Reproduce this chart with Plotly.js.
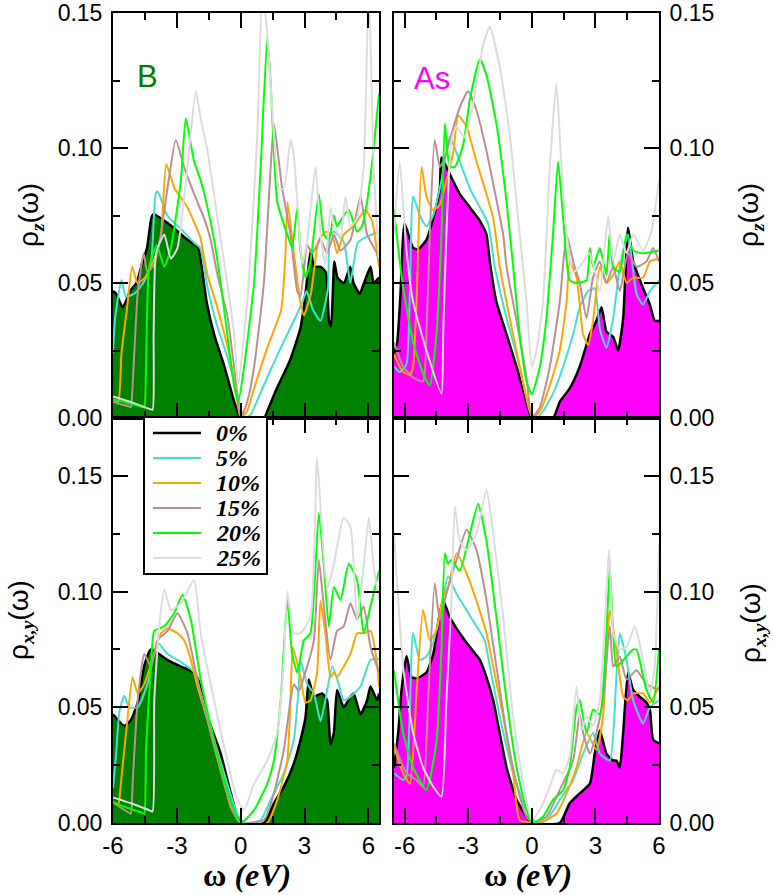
<!DOCTYPE html>
<html><head><meta charset="utf-8">
<script src="https://cdn.plot.ly/plotly-3.0.1.min.js"></script>
<style>html,body{margin:0;padding:0;background:#fff}#plot{width:774px;height:895px}</style>
</head><body><div id="plot"></div><script>
// ---- labels ----
const seriesNames = ['0%','5%','10%','15%','20%','25%'];
const seriesColors = ['#000000','#40E0D0','#FFA500','#BC8F8F','#00FF00','#DCDCDC'];
const xTickVals = [-6,-3,0,3,6];
const xTickText = ['-6','-3','0','3','6'];
const xMinorVals = [-4.5,-1.5,1.5,4.5];
const yTickVals = [0,0.05,0.1,0.15];
const yTickText = ['0.00','0.05','0.10','0.15'];
const yMinorVals = [0.025,0.075,0.125];

// ---- B, rho_z ----
const w_Bz_0 = [-6.0,-5.85,-5.55,-5.4,-5.2,-4.9,-4.6,-4.4,-4.2,-4.1,-3.4,-2.5,-2.0,-1.85,-1.6,-1.25,-0.8,-0.3,0,1.1,1.25,1.7,2.3,2.8,3.0,3.2,3.3,3.45,3.75,4.0,4.15,4.25,4.4,4.55,4.85,5.15,5.3,5.6,5.75,6.1,6.25,6.5];
const r_Bz_0 = [0.047,0.046,0.041,0.043,0.047,0.050,0.058,0.063,0.074,0.0755,0.072,0.066,0.063,0.057,0.043,0.031,0.020,0.006,0,0,0.0025,0.011,0.021,0.033,0.043,0.057,0.062,0.056,0.056,0.054,0.036,0.034,0.058,0.052,0.050,0.056,0.050,0.046,0.049,0.056,0.050,0.052];
const w_Bz_5 = [-6.0,-5.9,-5.6,-5.4,-5.0,-4.5,-4.2,-4.0,-3.9,-3.45,-2.8,-2.2,-1.9,-1.55,-1.1,-0.6,-0.15,0.15,0.45,0.75,1.25,2.0,2.5,2.9,3.1,3.4,3.75,4.1,4.2,4.4,4.85,5.15,5.5,5.9,6.5];
const r_Bz_5 = [0.024,0.037,0.051,0.045,0.046,0.051,0.058,0.083,0.084,0.075,0.070,0.065,0.063,0.048,0.034,0.022,0.009,0.0,0.001,0.006,0.015,0.028,0.036,0.043,0.047,0.040,0.036,0.048,0.068,0.069,0.065,0.050,0.065,0.067,0.069];
const w_Bz_10 = [-6.0,-5.75,-5.6,-5.35,-5.1,-4.85,-4.5,-4.05,-3.75,-3.5,-3.1,-2.5,-2.05,-1.9,-1.56,-1.1,-0.47,-0.16,0,0.3,0.63,1.25,1.9,2.1,2.2,2.5,2.8,2.97,3.3,3.67,4.0,4.3,4.53,4.84,5.3,5.86,6.17,6.5];
const r_Bz_10 = [0.007,0.006,0.024,0.040,0.056,0.050,0.052,0.059,0.067,0.094,0.085,0.078,0.070,0.067,0.053,0.041,0.021,0.006,0,0.0025,0.011,0.026,0.040,0.060,0.080,0.061,0.043,0.038,0.046,0.066,0.069,0.068,0.061,0.068,0.071,0.077,0.073,0.056];
const w_Bz_15 = [-6.0,-5.6,-5.25,-5.16,-5.08,-4.84,-4.56,-4.38,-4.06,-3.75,-3.44,-3.05,-2.66,-2.19,-1.72,-1.41,-1.09,-0.63,-0.31,0,0.31,0.63,1.09,1.41,1.56,1.72,1.95,2.34,2.66,2.81,3.13,3.36,3.75,4.06,4.38,4.69,5.16,5.63,5.94,6.4,6.5];
const r_Bz_15 = [0.006,0.005,0.0043,0.004,0.012,0.046,0.061,0.054,0.057,0.068,0.085,0.103,0.093,0.083,0.074,0.066,0.053,0.038,0.019,0,0.006,0.019,0.050,0.093,0.109,0.100,0.085,0.068,0.047,0.045,0.064,0.061,0.066,0.061,0.068,0.062,0.066,0.082,0.068,0.061,0.058];
const w_Bz_20 = [-6.0,-5.3,-4.65,-4.53,-4.45,-4.3,-3.94,-3.59,-3.28,-2.81,-2.58,-2.19,-1.88,-1.56,-1.25,-0.94,-0.63,-0.31,-0.11,0.16,0.63,0.94,1.25,1.41,1.72,2.19,2.42,2.66,2.81,3.05,3.28,3.67,3.91,4.14,4.38,4.53,4.84,5.08,5.47,5.7,5.94,6.25,6.5];
const r_Bz_20 = [0.007,0.0055,0.0042,0.004,0.019,0.056,0.064,0.056,0.063,0.088,0.111,0.095,0.088,0.078,0.066,0.050,0.031,0.012,0.006,0.019,0.050,0.093,0.141,0.124,0.080,0.068,0.063,0.078,0.062,0.052,0.058,0.083,0.068,0.066,0.075,0.071,0.075,0.077,0.069,0.071,0.080,0.100,0.120];
const w_Bz_25 = [-6.0,-5.0,-4.3,-4.14,-4.09,-3.98,-3.59,-3.28,-2.97,-2.5,-2.11,-1.88,-1.56,-1.09,-0.63,-0.31,-0.12,0.31,0.78,1.02,1.25,1.56,1.8,2.03,2.34,2.5,2.66,2.89,3.13,3.52,3.75,3.98,4.22,4.38,4.69,4.92,5.16,5.47,5.78,6.02,6.25,6.5];
const r_Bz_25 = [0.008,0.0055,0.0034,0.003,0.031,0.061,0.068,0.059,0.063,0.093,0.121,0.111,0.099,0.074,0.050,0.031,0.012,0.043,0.105,0.160,0.142,0.105,0.085,0.085,0.103,0.097,0.080,0.057,0.066,0.093,0.068,0.057,0.078,0.071,0.067,0.082,0.071,0.074,0.093,0.160,0.093,0.059];

// ---- As, rho_z ----
const w_Asz_0 = [-6.5,-6.35,-6.2,-6.0,-5.6,-5.36,-4.97,-4.65,-4.34,-4.26,-3.79,-3.4,-2.92,-2.45,-2.14,-1.98,-1.67,-1.19,-0.72,-0.25,0,1.0,1.32,1.79,2.26,2.74,3.05,3.29,3.52,3.84,4.07,4.31,4.54,4.78,5.25,5.57,5.8,6.0];
const r_Asz_0 = [0.024,0.028,0.045,0.072,0.063,0.0625,0.066,0.074,0.085,0.0965,0.089,0.083,0.078,0.073,0.068,0.058,0.043,0.031,0.019,0.006,0,0,0.006,0.011,0.019,0.031,0.036,0.041,0.032,0.030,0.025,0.037,0.0705,0.058,0.048,0.042,0.036,0.036];
const w_Asz_5 = [-6.5,-6.23,-5.91,-5.6,-5.28,-4.97,-4.65,-4.26,-3.87,-3.4,-2.92,-2.45,-2.06,-1.75,-1.19,-0.57,-0.09,0.22,0.53,1.0,1.48,1.95,2.26,2.66,2.97,3.21,3.52,3.84,4.15,4.54,4.94,5.25,5.57,6.0];
const r_Asz_5 = [0.019,0.017,0.020,0.082,0.075,0.071,0.075,0.088,0.104,0.095,0.085,0.078,0.072,0.056,0.037,0.019,0.0025,0,0.0025,0.009,0.019,0.031,0.041,0.047,0.048,0.033,0.026,0.037,0.056,0.068,0.046,0.042,0.047,0.051];
const w_Asz_10 = [-6.5,-6.07,-5.75,-5.6,-5.44,-5.2,-4.97,-4.65,-4.34,-4.03,-3.71,-3.47,-3.08,-2.61,-2.14,-1.82,-1.51,-1.04,-0.57,-0.09,0.06,0.38,0.85,1.32,1.64,1.79,2.11,2.42,2.66,2.89,3.21,3.52,3.84,4.15,4.47,4.78,5.25,5.57,6.0];
const r_Asz_10 = [0.0235,0.017,0.016,0.019,0.043,0.093,0.082,0.077,0.079,0.088,0.098,0.112,0.108,0.095,0.083,0.074,0.056,0.037,0.019,0.0025,0,0.0025,0.012,0.025,0.043,0.058,0.052,0.031,0.027,0.036,0.056,0.050,0.053,0.058,0.050,0.052,0.052,0.058,0.059];
const w_Asz_15 = [-6.5,-6.07,-5.6,-5.13,-4.97,-4.81,-4.58,-4.34,-4.1,-3.87,-3.4,-3.0,-2.61,-2.14,-1.75,-1.35,-1.19,-0.72,-0.25,0,0.38,0.85,1.32,1.64,1.95,2.26,2.58,2.89,3.21,3.52,3.84,4.15,4.54,4.94,5.41,5.72,6.0];
const r_Asz_15 = [0.028,0.019,0.015,0.0135,0.031,0.068,0.103,0.093,0.0965,0.103,0.115,0.121,0.114,0.099,0.084,0.068,0.056,0.036,0.015,0,0.004,0.019,0.043,0.068,0.058,0.050,0.037,0.052,0.058,0.050,0.056,0.047,0.061,0.056,0.058,0.063,0.058];
const w_Asz_20 = [-6.5,-6.1,-5.6,-5.1,-4.81,-4.5,-4.26,-4.1,-3.87,-3.63,-3.24,-2.92,-2.45,-2.14,-1.67,-1.19,-0.88,-0.57,-0.25,0,0.38,0.69,1.0,1.24,1.48,1.79,2.11,2.58,2.74,2.89,3.21,3.52,3.68,3.84,4.15,4.47,4.78,5.25,6.0];
const r_Asz_20 = [0.077,0.050,0.028,0.016,0.012,0.031,0.068,0.109,0.093,0.093,0.101,0.118,0.133,0.127,0.109,0.080,0.056,0.031,0.0135,0.0087,0.019,0.037,0.068,0.095,0.074,0.051,0.050,0.051,0.063,0.056,0.063,0.053,0.069,0.056,0.054,0.068,0.062,0.061,0.062];
const w_Asz_25 = [-6.5,-6.23,-5.91,-5.6,-4.97,-4.26,-4.18,-4.03,-3.79,-3.55,-3.2,-2.8,-2.3,-1.98,-1.51,-1.04,-0.57,-0.25,0,0.22,0.53,0.85,1.16,1.4,1.64,1.95,2.26,2.74,3.21,3.6,3.84,4.15,4.47,4.78,5.25,5.64,6.0];
const r_Asz_25 = [0.068,0.095,0.062,0.043,0.025,0.009,0.031,0.068,0.103,0.108,0.104,0.115,0.138,0.145,0.130,0.105,0.068,0.043,0.019,0.025,0.043,0.093,0.124,0.093,0.068,0.054,0.056,0.061,0.047,0.075,0.058,0.068,0.061,0.068,0.062,0.069,0.088];

// ---- B, rho_xy ----
const w_Bxy_0 = [-6.0,-5.47,-5.16,-4.84,-4.53,-4.22,-3.44,-2.81,-2.19,-1.88,-1.56,-0.94,-0.47,0,1.1,1.56,2.03,2.5,2.89,3.05,3.2,3.44,3.83,4.06,4.22,4.38,4.53,4.84,5.16,5.31,5.63,5.94,6.1,6.41,6.5];
const r_Bxy_0 = [0.047,0.042,0.0445,0.052,0.068,0.075,0.0705,0.0676,0.065,0.059,0.046,0.030,0.013,0,0,0.0085,0.0157,0.0258,0.0388,0.046,0.062,0.0546,0.056,0.053,0.034,0.039,0.0575,0.050,0.0546,0.056,0.047,0.053,0.059,0.053,0.056];
const w_Bxy_5 = [-6.0,-5.85,-5.7,-5.47,-5.23,-4.84,-4.38,-3.91,-3.44,-2.97,-2.5,-2.19,-1.88,-1.25,-0.63,-0.16,0.16,0.94,1.41,2.03,2.5,2.73,2.81,3.13,3.44,3.75,3.98,4.3,4.61,4.84,5.16,5.63,6.1,6.5];
const r_Bxy_5 = [0.015,0.030,0.048,0.055,0.050,0.050,0.060,0.078,0.073,0.0705,0.0676,0.065,0.056,0.036,0.017,0.004,0,0.0013,0.010,0.0215,0.036,0.059,0.070,0.060,0.056,0.044,0.053,0.0676,0.060,0.053,0.0546,0.059,0.0705,0.071];
const w_Bxy_10 = [-6.0,-5.75,-5.63,-5.31,-5.08,-4.84,-4.53,-4.06,-3.75,-3.44,-2.97,-2.66,-2.34,-2.03,-1.56,-0.94,-0.47,0,1.25,1.72,2.19,2.34,2.45,2.81,3.05,3.28,3.59,3.75,3.98,4.22,4.38,4.53,4.84,5.16,5.47,5.78,6.1,6.41,6.5];
const r_Bxy_10 = [0.009,0.008,0.017,0.046,0.063,0.056,0.060,0.073,0.082,0.084,0.082,0.079,0.0705,0.059,0.0445,0.024,0.007,0,0,0.010,0.027,0.053,0.076,0.063,0.052,0.053,0.065,0.096,0.082,0.063,0.065,0.063,0.0676,0.073,0.082,0.082,0.083,0.069,0.059];
const w_Bxy_15 = [-6.0,-5.6,-5.3,-5.16,-5.08,-4.84,-4.53,-4.22,-3.91,-3.44,-2.97,-2.5,-2.19,-1.88,-1.41,-0.78,-0.31,0,1.1,1.56,2.03,2.34,2.5,2.73,2.97,3.44,3.67,3.91,4.22,4.53,4.84,5.16,5.47,5.78,6.1,6.5];
const r_Bxy_15 = [0.009,0.0065,0.0047,0.004,0.017,0.053,0.073,0.0676,0.079,0.083,0.0906,0.082,0.069,0.056,0.0388,0.017,0.004,0,0.0013,0.0128,0.0316,0.053,0.060,0.057,0.063,0.079,0.1137,0.0935,0.0705,0.083,0.085,0.095,0.088,0.0935,0.076,0.065];
const w_Bxy_20 = [-6.0,-5.3,-4.65,-4.53,-4.45,-4.22,-4.06,-3.59,-3.13,-2.73,-2.34,-1.88,-1.25,-0.63,0,0.63,1.25,1.56,1.88,2.19,2.42,2.66,2.97,3.28,3.67,3.91,4.14,4.38,4.69,5.08,5.47,5.78,6.1,6.5];
const r_Bxy_20 = [0.009,0.0065,0.0045,0.004,0.0316,0.0676,0.083,0.085,0.0906,0.0986,0.0878,0.062,0.036,0.0143,0,0.0056,0.017,0.027,0.053,0.0964,0.073,0.065,0.079,0.082,0.134,0.111,0.085,0.102,0.0964,0.112,0.105,0.082,0.0935,0.109];
const w_Bxy_25 = [-6.0,-5.0,-4.3,-4.14,-4.06,-3.83,-3.59,-3.28,-2.81,-2.19,-1.88,-1.25,-0.63,-0.16,0.16,0.63,1.25,1.72,2.03,2.19,2.5,2.81,3.28,3.59,3.83,4.06,4.38,4.84,5.16,5.47,5.78,6.02,6.25,6.5];
const r_Bxy_25 = [0.011,0.008,0.0055,0.005,0.053,0.085,0.101,0.092,0.095,0.105,0.082,0.053,0.027,0.010,0.0056,0.017,0.027,0.039,0.0705,0.100,0.082,0.082,0.089,0.158,0.125,0.101,0.112,0.132,0.128,0.088,0.111,0.132,0.111,0.096];

// ---- As, rho_xy ----
const w_Asxy_0 = [-6.5,-6.3,-6.15,-5.91,-5.68,-5.44,-4.97,-4.65,-4.34,-4.18,-3.87,-3.4,-2.92,-2.45,-2.14,-1.82,-1.19,-0.72,-0.25,0,1.32,1.79,2.26,2.74,2.97,3.21,3.52,3.84,3.99,4.15,4.31,4.54,4.78,5.09,5.41,5.57,5.72,6.0];
const r_Asxy_0 = [0.024,0.039,0.057,0.072,0.063,0.0625,0.065,0.073,0.0906,0.096,0.089,0.082,0.076,0.0705,0.063,0.053,0.024,0.010,0.0027,0,0,0.0085,0.0128,0.017,0.030,0.040,0.030,0.027,0.027,0.024,0.039,0.065,0.0575,0.0546,0.052,0.049,0.036,0.0344];
const w_Asxy_5 = [-6.5,-6.07,-5.91,-5.6,-5.28,-4.97,-4.65,-4.26,-3.95,-3.55,-3.08,-2.61,-2.22,-1.98,-1.51,-0.88,-0.25,0.22,0.69,1.32,1.95,2.42,2.89,3.21,3.68,3.99,4.15,4.47,4.78,5.25,5.57,6.0];
const r_Asxy_5 = [0.0215,0.0186,0.020,0.082,0.0705,0.072,0.078,0.0935,0.1065,0.099,0.092,0.085,0.079,0.0676,0.046,0.0215,0.0056,0,0.0013,0.010,0.0186,0.030,0.039,0.030,0.027,0.063,0.082,0.0705,0.053,0.043,0.050,0.053];
const w_Asxy_10 = [-6.5,-6.07,-5.75,-5.44,-5.13,-4.81,-4.5,-4.18,-3.95,-3.55,-3.08,-2.61,-2.14,-1.82,-1.35,-0.88,-0.57,0.06,0.38,1.16,1.64,2.11,2.58,3.05,3.36,3.68,3.99,4.31,4.54,4.78,5.25,5.57,6.0];
const r_Asxy_10 = [0.033,0.0215,0.017,0.056,0.092,0.079,0.083,0.098,0.102,0.1166,0.108,0.096,0.082,0.0676,0.046,0.0215,0.0013,0,0,0.004,0.0128,0.024,0.039,0.0316,0.046,0.092,0.075,0.0546,0.053,0.056,0.056,0.052,0.059];
const w_Asxy_15 = [-6.5,-5.91,-5.44,-5.13,-4.89,-4.58,-4.34,-4.03,-3.55,-3.08,-2.61,-2.14,-1.67,-1.19,-0.72,-0.25,0.06,0.69,1.32,1.95,2.26,2.42,2.74,3.05,3.36,3.68,3.84,4.15,4.47,4.94,5.41,6.0];
const r_Asxy_15 = [0.0344,0.0215,0.0186,0.0157,0.053,0.1036,0.0878,0.099,0.1137,0.1267,0.118,0.0964,0.0676,0.0388,0.017,0.0027,0,0.0027,0.0143,0.027,0.047,0.039,0.030,0.039,0.053,0.085,0.0676,0.072,0.062,0.066,0.060,0.0575];
const w_Asxy_20 = [-6.5,-6.07,-5.6,-4.97,-4.5,-4.26,-4.1,-3.95,-3.79,-3.4,-2.92,-2.53,-2.14,-1.67,-1.19,-0.72,-0.25,0.06,0.53,1.0,1.48,1.79,2.11,2.26,2.58,2.89,3.21,3.52,3.68,3.84,3.99,4.47,4.78,4.94,5.41,5.72,6.0];
const r_Asxy_20 = [0.066,0.039,0.024,0.0143,0.035,0.075,0.1166,0.112,0.1137,0.109,0.125,0.138,0.122,0.089,0.053,0.024,0.0056,0,0.0027,0.010,0.0143,0.024,0.050,0.053,0.039,0.049,0.047,0.082,0.111,0.082,0.0676,0.072,0.075,0.075,0.0575,0.052,0.075];
const w_Asxy_25 = [-6.5,-6.07,-5.6,-5.13,-4.65,-4.26,-4.03,-3.79,-3.63,-3.4,-3.08,-2.61,-2.14,-1.82,-1.35,-0.88,-0.41,0,0.38,0.85,1.16,1.48,1.79,2.11,2.34,2.58,2.89,3.21,3.65,3.84,4.15,4.47,4.86,5.25,5.57,5.8,6.0];
const r_Asxy_25 = [0.125,0.0676,0.039,0.024,0.0157,0.0114,0.053,0.096,0.1367,0.122,0.118,0.125,0.144,0.125,0.089,0.046,0.017,0.0013,0.0056,0.0157,0.023,0.0215,0.0287,0.059,0.040,0.046,0.042,0.053,0.118,0.082,0.075,0.076,0.085,0.0705,0.056,0.0676,0.121];

// ---- build ----
const W = 774, H = 895;
const px = v => v / W;
const py = v => 1 - v / H;
const SMOOTH = 0.5;

const panels = [
  {w:[w_Bz_0,w_Bz_5,w_Bz_10,w_Bz_15,w_Bz_20,w_Bz_25], r:[r_Bz_0,r_Bz_5,r_Bz_10,r_Bz_15,r_Bz_20,r_Bz_25], xa:'x', ya:'y', fill:'#008000'},
  {w:[w_Asz_0,w_Asz_5,w_Asz_10,w_Asz_15,w_Asz_20,w_Asz_25], r:[r_Asz_0,r_Asz_5,r_Asz_10,r_Asz_15,r_Asz_20,r_Asz_25], xa:'x2', ya:'y2', fill:'#FF00FF'},
  {w:[w_Bxy_0,w_Bxy_5,w_Bxy_10,w_Bxy_15,w_Bxy_20,w_Bxy_25], r:[r_Bxy_0,r_Bxy_5,r_Bxy_10,r_Bxy_15,r_Bxy_20,r_Bxy_25], xa:'x3', ya:'y3', fill:'#008000'},
  {w:[w_Asxy_0,w_Asxy_5,w_Asxy_10,w_Asxy_15,w_Asxy_20,w_Asxy_25], r:[r_Asxy_0,r_Asxy_5,r_Asxy_10,r_Asxy_15,r_Asxy_20,r_Asxy_25], xa:'x4', ya:'y4', fill:'#FF00FF'}
];

const traces = [];
panels.forEach(p => {
  traces.push({x:p.w[0], y:p.r[0], xaxis:p.xa, yaxis:p.ya, type:'scatter', mode:'lines',
    fill:'tozeroy', fillcolor:p.fill, line:{width:0, color:p.fill, shape:'spline', smoothing:SMOOTH},
    showlegend:false, hoverinfo:'skip'});
  for (let i = 0; i < 6; i++) {
    traces.push({x:p.w[i], y:p.r[i], xaxis:p.xa, yaxis:p.ya, type:'scatter', mode:'lines',
      name:seriesNames[i], line:{color:seriesColors[i], width: i === 0 ? 2.5 : 2, shape:'spline', smoothing:SMOOTH},
      showlegend:false, hoverinfo:'skip'});
  }
});

const xFont = {family:'Liberation Sans, Arial, sans-serif', size:24, color:'#000'};
const yFont = {family:'Liberation Sans, Arial, sans-serif', size:23, color:'#000'};
function common() {
  return {ticks:'inside', ticklen:15, tickwidth:2, tickcolor:'#000', mirror:'allticks', showline:true,
    linewidth:2, linecolor:'#000', showgrid:false, zeroline:false, fixedrange:true, tickmode:'array'};
}
function xax(domain, range, anchor, labels) {
  return Object.assign(common(), {domain:domain, range:range, anchor:anchor, tickvals:xTickVals,
    ticktext: labels ? xTickText : xTickVals.map(() => ''), tickfont:xFont,
    minor:{tickmode:'array', tickvals:xMinorVals, ticks:'inside', ticklen:7, tickwidth:2, tickcolor:'#000', showgrid:false}});
}
function yax(domain, range, anchor, side) {
  return Object.assign(common(), {domain:domain, range:range, anchor:anchor, side:side, tickvals:yTickVals,
    ticktext:yTickText, tickfont:yFont, ticklabelstandoff:4,
    minor:{tickmode:'array', tickvals:yMinorVals, ticks:'inside', ticklen:7, tickwidth:2, tickcolor:'#000', showgrid:false}});
}
const dxL = [px(113), px(379)], dxR = [px(394), px(659)];
const dyT = [py(418), py(13)], dyB = [py(823), py(418)];

const serif = 'Liberation Serif, Times New Roman, serif';
const sans = 'Liberation Sans, Arial, sans-serif';
const rhoZ = 'ρ<sub><span style="font-family:Liberation Serif"><b><i>z</i></b></span></sub>(ω)';
const rhoXY = 'ρ<sub><span style="font-family:Liberation Serif"><b><i>x,y</i></b></span></sub>(ω)';
const omegaT = '<b>ω <i>(eV)</i></b>';

const ann = (x, y, text, font, angle, xanchor) => ({xref:'paper', yref:'paper', x:px(x), y:py(y), text:text,
  showarrow:false, xanchor:xanchor || 'center', yanchor:'middle', font:font, textangle:angle || 0});

// custom legend (box, line samples, labels) inside the lower-left panel
const legBox = {x0:144, x1:267, y0:417, y1:574};
const legRows = [433, 458, 483, 508, 533, 558];
const shapes = [{type:'rect', xref:'paper', yref:'paper', x0:px(legBox.x0), x1:px(legBox.x1), y0:py(legBox.y1), y1:py(legBox.y0),
  fillcolor:'#fff', line:{color:'#000', width:2}, layer:'above'}];
const annotations = [
  ann(30, 215, rhoZ, {family:sans, size:28, color:'#000'}, -90),
  ann(750, 215, rhoZ, {family:sans, size:28, color:'#000'}, -90),
  ann(20, 620, rhoXY, {family:sans, size:28, color:'#000'}, -90),
  ann(752, 623, rhoXY, {family:sans, size:28, color:'#000'}, -90),
  ann(247, 875, omegaT, {family:serif, size:32, color:'#000'}),
  ann(528, 875, omegaT, {family:serif, size:32, color:'#000'}),
  ann(147, 77, 'B', {family:sans, size:31, color:'#008000'}),
  ann(432, 79, 'As', {family:sans, size:31, color:'#FF00FF'})
];
seriesNames.forEach((n, i) => {
  shapes.push({type:'line', xref:'paper', yref:'paper', x0:px(153), x1:px(201), y0:py(legRows[i]), y1:py(legRows[i]),
    line:{color:seriesColors[i], width: i === 0 ? 2.5 : 2}, layer:'above'});
  annotations.push(ann(214, legRows[i], '<b><i>' + n + '</i></b>', {family:serif, size:24, color:'#000'}, 0, 'left'));
});

const layout = {
  width:W, height:H, margin:{l:0, r:0, t:0, b:0, pad:0},
  paper_bgcolor:'#fff', plot_bgcolor:'#fff', showlegend:false,
  xaxis: xax(dxL, [-6, 6.5], 'y', false),
  yaxis: yax(dyT, [0, 0.15], 'x', 'left'),
  xaxis2: xax(dxR, [-6.5, 6], 'y2', false),
  yaxis2: yax(dyT, [0, 0.15], 'x2', 'right'),
  xaxis3: xax(dxL, [-6, 6.5], 'y3', true),
  yaxis3: yax(dyB, [0, 0.175], 'x3', 'left'),
  xaxis4: xax(dxR, [-6.5, 6], 'y4', true),
  yaxis4: yax(dyB, [0, 0.175], 'x4', 'right'),
  shapes: shapes,
  annotations: annotations
};

Plotly.newPlot('plot', traces, layout, {displayModeBar:false, staticPlot:true});
</script></body></html>
